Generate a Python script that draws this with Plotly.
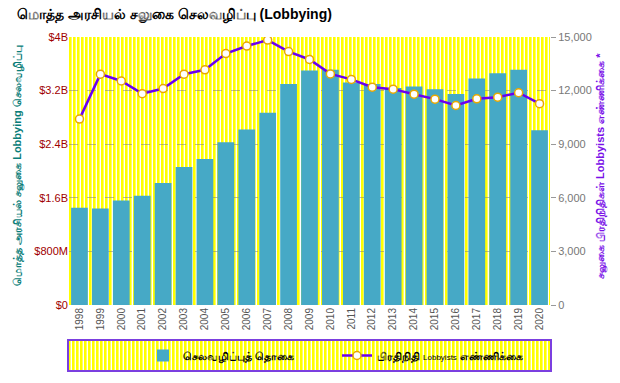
import base64
import plotly.graph_objects as go

years = [str(y) for y in range(1998, 2021)]
spending_b = [1.45, 1.44, 1.56, 1.63, 1.82, 2.06, 2.18, 2.43, 2.62, 2.87, 3.30, 3.50,
              3.51, 3.32, 3.30, 3.24, 3.26, 3.22, 3.15, 3.38, 3.46, 3.51, 2.61]
lobbyists = [10404, 12921, 12537, 11830, 12113, 12920, 13165, 14070, 14495, 14829,
             14182, 13742, 12935, 12627, 12193, 12081, 11798, 11522, 11166, 11541,
             11631, 11880, 11266]
left_tickvals = [0, 0.8e9, 1.6e9, 2.4e9, 3.2e9, 4.0e9]
left_ticktext = ["$0", "$800M", "$1.6B", "$2.4B", "$3.2B", "$4B"]
right_tickvals = [0, 3000, 6000, 9000, 12000, 15000]
right_ticktext = ["0", "3,000", "6,000", "9,000", "12,000", "15,000"]

spending = [v * 1e9 for v in spending_b]

W, H = 620, 383
ML, MR, MT, MB = 69, 70, 37, 78
PW, PH = W - ML - MR, H - MT - MB


def stripes(w, h):
    svg = ("<svg xmlns='http://www.w3.org/2000/svg' width='%d' height='%d'>"
           "<defs><pattern id='p' width='4' height='4' patternUnits='userSpaceOnUse'>"
           "<rect width='4' height='4' fill='#ffffff'/><rect width='2.6' height='4' fill='#ffff00'/>"
           "</pattern></defs><rect width='100%%' height='100%%' fill='url(#p)'/></svg>") % (w, h)
    return "data:image/svg+xml;base64," + base64.b64encode(svg.encode()).decode()


fig = go.Figure()
fig.add_trace(go.Bar(
    x=years, y=spending, name="<b>செலவழிப்புத் தொகை</b>",
    marker=dict(color="#46a9c6", line=dict(width=0)),
    yaxis="y", legend="legend", showlegend=True,
))
fig.add_trace(go.Scatter(
    x=years, y=lobbyists,
    name="<b>பிரதிநிதி</b> <span style='font-size:8px'>Lobbyists</span> <b>எண்ணிக்கை</b>",
    mode="lines+markers",
    line=dict(color="#6a00f0", width=2.5),
    marker=dict(color="white", size=8, line=dict(color="#e8a800", width=1.5)),
    yaxis="y2", legend="legend2", showlegend=True,
))

# legend box geometry (pixels)
lx0, lx1, ly0, ly1 = 68, 551, 340, 371
px = lambda x: (x - ML) / PW
py = lambda y: (MT + PH - y) / PH

fig.update_layout(
    width=W, height=H,
    margin=dict(l=ML, r=MR, t=MT, b=MB, autoexpand=False),
    showlegend=True,
    paper_bgcolor="white",
    plot_bgcolor="rgba(0,0,0,0)",
    font=dict(family="Liberation Sans, Arial, sans-serif", size=11, color="#555"),
    title=dict(text="<b>மொத்த அரசியல் சலுகை செலவழிப்பு (Lobbying)</b>",
               x=17 / W, xref="container", xanchor="left",
               y=1 - 14 / H, yref="container", yanchor="middle",
               font=dict(size=14, color="black")),
    bargap=0.2,
    xaxis=dict(type="category", range=[-0.5, len(years) - 0.5], tickangle=-90,
               showgrid=False, ticks="", automargin=False,
               tickfont=dict(size=10, color="#555"), showline=False, zeroline=False),
    yaxis=dict(range=[0, 4e9], tickvals=left_tickvals, ticktext=left_ticktext, automargin=False,
               tickfont=dict(size=11, color="#a00000"),
               showgrid=True, gridcolor="rgba(120,120,120,0.5)", griddash="dash", gridwidth=1,
               zeroline=False, ticks=""),
    yaxis2=dict(range=[0, 15000], tickvals=right_tickvals, ticktext=right_ticktext,
                overlaying="y", side="right", showgrid=False, zeroline=False, automargin=False,
                ticks="outside", ticklen=5, tickcolor="#999",
                tickfont=dict(size=11, color="#777")),
    annotations=[
        dict(text="<b>மொத்த அரசியல் சலுகை Lobbying செலவழிப்பு</b>", textangle=-90,
             xref="paper", yref="paper", x=px(18), y=py(166), xanchor="center", yanchor="middle",
             showarrow=False, font=dict(size=11, color="#0a7d78")),
        dict(text="<b>சலுகை பிரதிநிதிகள் Lobbyists எண்ணிக்கை *</b>", textangle=-90,
             xref="paper", yref="paper", x=px(601), y=py(166), xanchor="center", yanchor="middle",
             showarrow=False, font=dict(size=11, color="#7a10e8")),
    ],
    legend=dict(orientation="h", x=px(143), y=py((ly0 + ly1) / 2), xanchor="left", yanchor="middle",
                bgcolor="rgba(0,0,0,0)", font=dict(size=11, color="black")),
    legend2=dict(orientation="h", x=px(337), y=py((ly0 + ly1) / 2), xanchor="left", yanchor="middle",
                 bgcolor="rgba(0,0,0,0)", font=dict(size=11, color="black")),
    images=[
        dict(source=stripes(PW, PH), xref="paper", yref="paper", x=0, y=1,
             sizex=1, sizey=1, xanchor="left", yanchor="top", sizing="stretch", layer="below"),
        dict(source=stripes(lx1 - lx0, ly1 - ly0), xref="paper", yref="paper",
             x=px(lx0), y=py(ly0), sizex=(lx1 - lx0) / PW, sizey=(ly1 - ly0) / PH,
             xanchor="left", yanchor="top", sizing="stretch", layer="below"),
    ],
    shapes=[
        dict(type="rect", xref="paper", yref="paper", x0=px(lx0), x1=px(lx1),
             y0=py(ly1), y1=py(ly0), line=dict(color="#7b3fe0", width=2), fillcolor="rgba(0,0,0,0)"),
    ],
)
fig.write_html("out.html", config={"displayModeBar": False},
               post_script="document.body.style.margin='0px';")
